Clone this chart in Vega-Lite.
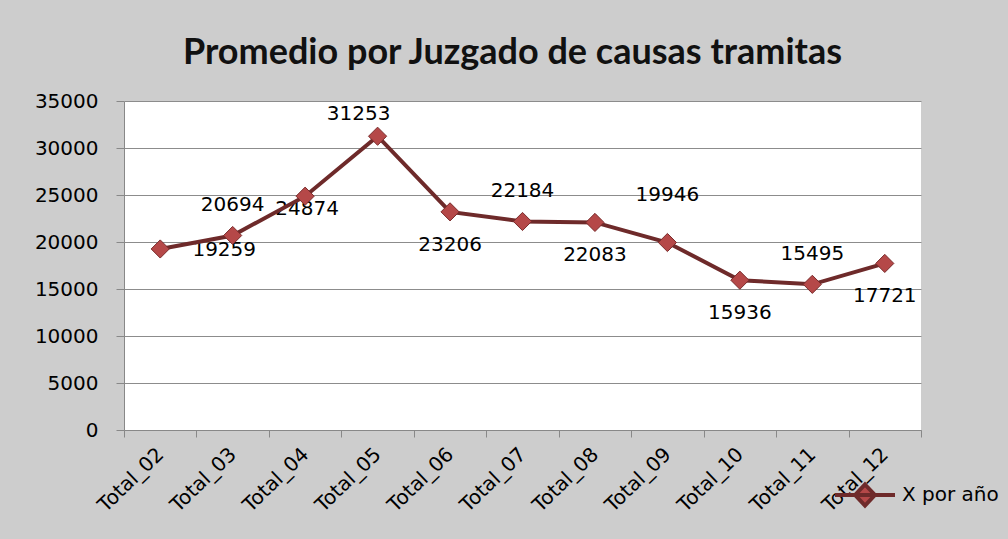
{
  "$schema": "https://vega.github.io/schema/vega-lite/v6.json",
  "width": 797,
  "height": 329,
  "autosize": "none",
  "padding": {"left": 124, "top": 101, "right": 87, "bottom": 109},
  "background": "#cdcdcd",
  "title": {
    "text": "Promedio por Juzgado de causas tramitas",
    "font": "Lato",
    "fontSize": 36,
    "fontWeight": "bold",
    "color": "#111111",
    "anchor": "middle",
    "dx": -10,
    "offset": 19
  },
  "config": {"view": {"fill": "white", "stroke": null}},
  "data": {
    "values": [
      {"cat": "Total_02", "v": 19259, "s": "X por año"},
      {"cat": "Total_03", "v": 20694, "s": "X por año"},
      {"cat": "Total_04", "v": 24874, "s": "X por año"},
      {"cat": "Total_05", "v": 31253, "s": "X por año"},
      {"cat": "Total_06", "v": 23206, "s": "X por año"},
      {"cat": "Total_07", "v": 22184, "s": "X por año"},
      {"cat": "Total_08", "v": 22083, "s": "X por año"},
      {"cat": "Total_09", "v": 19946, "s": "X por año"},
      {"cat": "Total_10", "v": 15936, "s": "X por año"},
      {"cat": "Total_11", "v": 15495, "s": "X por año"},
      {"cat": "Total_12", "v": 17721, "s": "X por año"}
    ]
  },
  "encoding": {
    "x": {
      "field": "cat",
      "type": "nominal",
      "sort": ["Total_02", "Total_03", "Total_04", "Total_05", "Total_06", "Total_07", "Total_08", "Total_09", "Total_10", "Total_11", "Total_12"],
      "scale": {"type": "band", "paddingInner": 0, "paddingOuter": 0},
      "axis": {
        "title": null,
        "tickBand": "extent",
        "tickSize": 7,
        "tickColor": "#888888",
        "domainColor": "#888888",
        "labelAngle": -44,
        "labelAlign": "right",
        "labelBaseline": "middle",
        "labelPadding": 14,
        "labelFont": "DejaVu Sans",
        "labelFontSize": 20,
        "labelColor": "#000000",
        "grid": false
      }
    },
    "y": {
      "field": "v",
      "type": "quantitative",
      "scale": {"domain": [0, 35000], "nice": false},
      "axis": {
        "title": null,
        "values": [0, 5000, 10000, 15000, 20000, 25000, 30000, 35000],
        "format": "d",
        "grid": true,
        "gridColor": "#8c8c8c",
        "domainColor": "#888888",
        "tickColor": "#888888",
        "tickSize": 8,
        "labelPadding": 18,
        "labelFont": "DejaVu Sans",
        "labelFontSize": 20,
        "labelColor": "#000000"
      }
    }
  },
  "layer": [
    {
      "transform": [{"filter": {"field": "cat", "oneOf": ["Total_03", "Total_07", "Total_11"]}}],
      "mark": {"type": "text", "font": "DejaVu Sans", "fontSize": 20, "color": "#000000", "dy": -30},
      "encoding": {"text": {"field": "v", "type": "quantitative", "format": "d"}}
    },
    {
      "transform": [{"filter": {"field": "cat", "equal": "Total_05"}}],
      "mark": {"type": "text", "font": "DejaVu Sans", "fontSize": 20, "color": "#000000", "dy": -22, "dx": -19},
      "encoding": {"text": {"field": "v", "type": "quantitative", "format": "d"}}
    },
    {
      "transform": [{"filter": {"field": "cat", "equal": "Total_09"}}],
      "mark": {"type": "text", "font": "DejaVu Sans", "fontSize": 20, "color": "#000000", "dy": -48},
      "encoding": {"text": {"field": "v", "type": "quantitative", "format": "d"}}
    },
    {
      "transform": [{"filter": {"field": "cat", "oneOf": ["Total_06", "Total_08", "Total_10", "Total_12"]}}],
      "mark": {"type": "text", "font": "DejaVu Sans", "fontSize": 20, "color": "#000000", "dy": 33},
      "encoding": {"text": {"field": "v", "type": "quantitative", "format": "d"}}
    },
    {
      "transform": [{"filter": {"field": "cat", "equal": "Total_04"}}],
      "mark": {"type": "text", "font": "DejaVu Sans", "fontSize": 20, "color": "#000000", "dy": 13, "dx": 2},
      "encoding": {"text": {"field": "v", "type": "quantitative", "format": "d"}}
    },
    {
      "transform": [{"filter": {"field": "cat", "equal": "Total_02"}}],
      "mark": {"type": "text", "font": "DejaVu Sans", "fontSize": 20, "color": "#000000", "dy": 1, "dx": 64},
      "encoding": {"text": {"field": "v", "type": "quantitative", "format": "d"}}
    },
    {
      "mark": {"type": "line", "strokeWidth": 4},
      "encoding": {
        "color": {
          "field": "s",
          "type": "nominal",
          "scale": {"range": ["#6e2a2a"]},
          "legend": {
            "title": null,
            "orient": "none",
            "legendX": 709,
            "legendY": 362,
            "symbolType": "M-1,0H1M0,-0.35L0.33,0L0,0.35L-0.33,0Z",
            "symbolSize": 3600,
            "labelFont": "DejaVu Sans",
            "labelFontSize": 20,
            "labelColor": "#000000",
            "labelOffset": 5,
            "encode": {
              "symbols": {
                "update": {
                  "fill": {"value": "#b54848"},
                  "stroke": {"value": "#6e2a2a"},
                  "strokeWidth": {"value": 4},
                  "opacity": {"value": 1}
                }
              }
            }
          }
        }
      }
    },
    {
      "mark": {"type": "point", "shape": "diamond", "size": 330, "filled": true, "fill": "#b54848", "stroke": "#7a2b2b", "strokeWidth": 1, "opacity": 1}
    }
  ]
}
